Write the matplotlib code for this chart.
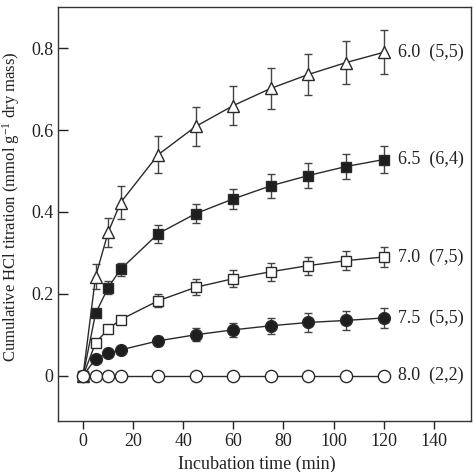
import matplotlib
matplotlib.use("Agg")
import matplotlib.pyplot as plt

plt.rcParams['font.family'] = ['Liberation Serif', 'DejaVu Serif']
plt.rcParams['mathtext.fontset'] = 'custom'
plt.rcParams['mathtext.rm'] = 'Liberation Serif'
plt.rcParams['mathtext.it'] = 'Liberation Serif:italic'
plt.rcParams['mathtext.default'] = 'rm'

time_min = [0, 5, 10, 15, 30, 45, 60, 75, 90, 105, 120]

ph60 = [0, 0.242, 0.350, 0.423, 0.540, 0.609, 0.660, 0.702, 0.736, 0.765, 0.790]
ph60_err = [0, 0.030, 0.035, 0.040, 0.045, 0.047, 0.048, 0.050, 0.051, 0.053, 0.054]

ph65 = [0, 0.152, 0.215, 0.260, 0.347, 0.396, 0.432, 0.464, 0.489, 0.511, 0.528]
ph65_err = [0, 0.008, 0.016, 0.016, 0.022, 0.024, 0.025, 0.029, 0.030, 0.031, 0.032]

ph70 = [0, 0.080, 0.114, 0.137, 0.183, 0.216, 0.237, 0.254, 0.269, 0.281, 0.290]
ph70_err = [0, 0.005, 0.006, 0.008, 0.016, 0.019, 0.020, 0.022, 0.022, 0.023, 0.024]

ph75 = [0, 0.041, 0.055, 0.063, 0.085, 0.100, 0.112, 0.122, 0.130, 0.135, 0.141]
ph75_err = [0, 0.004, 0.005, 0.008, 0.012, 0.016, 0.017, 0.020, 0.023, 0.024, 0.025]

ph80 = [0, 0, 0, 0, 0, 0, 0, 0, 0, 0, 0]
ph80_err = [0, 0, 0, 0, 0, 0, 0, 0, 0, 0, 0]

labels = ["6.0  (5,5)", "6.5  (6,4)", "7.0  (7,5)", "7.5  (5,5)", "8.0  (2,2)"]
xticks = [0, 20, 40, 60, 80, 100, 120, 140]
yticks = [0, 0.2, 0.4, 0.6, 0.8]
ytick_labels = ["0", "0.2", "0.4", "0.6", "0.8"]

fig = plt.figure(figsize=(4.74, 4.72), dpi=100)
ax = fig.add_axes([58 / 474, 1 - 420.7 / 472, (471.3 - 58) / 474, (420.7 - 7.3) / 472])

line_c = '#2a2a2a'
series = [
    (ph60, ph60_err, '^', 'white', 9.0),
    (ph65, ph65_err, 's', '#1e1e1e', 7.5),
    (ph70, ph70_err, 's', 'white', 7.5),
    (ph75, ph75_err, 'o', '#1e1e1e', 8.5),
    (ph80, ph80_err, 'o', 'white', 8.8),
]
for i, ((vals, err, mk, fc, ms), lab) in enumerate(zip(series, labels)):
    ax.errorbar(time_min, vals, yerr=err, color=line_c, lw=1.0, marker=mk,
                markersize=ms, markerfacecolor=fc, markeredgecolor=line_c,
                markeredgewidth=1.0, ecolor='#444444', elinewidth=1.0,
                capsize=3, capthick=1.0, zorder=3 + i)
    ax.annotate(lab, xy=(time_min[-1], vals[-1]), xytext=(10, 0),
                textcoords='offset points', va='center', ha='left',
                fontsize=13, color='#222222')

ax.set_xlim(-10, 155)
ax.set_ylim(-0.11, 0.9)
ax.set_xticks(xticks)
ax.set_yticks(yticks)
ax.set_yticklabels(ytick_labels)
ax.tick_params(axis='x', direction='out', length=6, width=1, labelsize=13,
               colors='#222222', pad=3)
ax.tick_params(axis='y', direction='in', length=7, width=1, labelsize=13,
               colors='#222222', pad=3.5)
for s in ax.spines.values():
    s.set_color('#333333')
    s.set_linewidth(1.0)

ax.set_xlabel('Incubation time (min)', fontsize=13, color='#222222')
ax.xaxis.set_label_coords(0.4815, -0.085)
ax.set_ylabel('Cumulative HCl titration (mmol g$^{-1}$ dry mass)', fontsize=12,
              color='#222222')
ax.yaxis.set_label_coords(-0.088, 0.517)

fig.savefig('out.png', dpi=100)
